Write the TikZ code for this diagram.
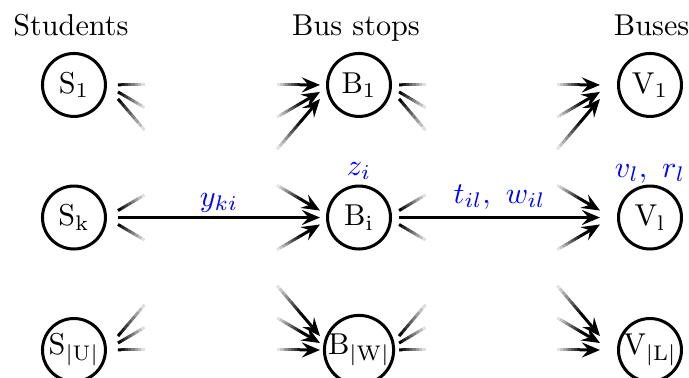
\documentclass[tikz,border=0pt]{standalone}
\usepackage{amsmath,amssymb}
\usepackage{tikz}
\usetikzlibrary{arrows.meta,positioning,calc}

% connector of which only the two ends are seen
\newcommand{\fadelink}[4]{%
  \coordinate (fa) at ([shift={(#3)}]#1.center);
  \coordinate (fb) at ([shift={(#4)}]#2.center);
  \foreach \t [evaluate=\t as \op using 1-\t/8] in {0,...,7}
    \draw[link, opacity=\op] ($(fa)!\t*0.0165!(fb)$) -- ($(fa)!\t*0.0165+0.0165!(fb)$);
  \foreach \t [evaluate=\t as \op using (\t+1)/9] in {0,...,7}
    \draw[link, opacity=\op] ($(fa)!0.787+\t*0.014!(fb)$) -- ($(fa)!0.801+\t*0.014!(fb)$);
  \draw[link, head] ($(fa)!0.899!(fb)$) -- (fb);
}

\begin{document}
\begin{tikzpicture}[
    place/.style={circle, draw, line width=1pt, minimum size=0.733cm, inner sep=0pt},
    link/.style={line width=1pt},
    head/.style={-{Stealth[length=6pt,width=5pt,inset=2.2pt]}},
    var/.style={text=blue}]
  \useasboundingbox (0,0) rectangle (8.02,-4.40);
  \node[anchor=base] (stu) at (0.826,-0.419) {Students};
  \node[anchor=base] (bst) at (4.144,-0.419) {Bus stops};
  \node[anchor=base] (bus) at (7.585,-0.419) {Buses};

  \node[place] (S1) at (0.861,-0.989) {$\mathrm{S}_\mathrm{1}$};
  \node[place] (S2) at (0.861,-2.532) {$\mathrm{S}_\mathrm{k}$};
  \node[place] (S3) at (0.861,-4.074) {$\mathrm{S}_{\mathrm{|U|}}$};
  \node[place] (B1) at (4.179,-0.989) {$\mathrm{B}_\mathrm{1}$};
  \node[place] (B2) at (4.179,-2.532) {$\mathrm{B}_\mathrm{i}$};
  \node[place] (B3) at (4.179,-4.074) {$\mathrm{B}_{\mathrm{|W|}}$};
  \node[place] (V1) at (7.566,-0.989) {$\mathrm{V}_\mathrm{1}$};
  \node[place] (V2) at (7.566,-2.532) {$\mathrm{V}_\mathrm{l}$};
  \node[place] (V3) at (7.566,-4.074) {$\mathrm{V}_{\mathrm{|L|}}$};

  \foreach \src in {1,2,3}
    \foreach \dst in {1,2,3} {
      \pgfmathsetmacro\da{(\src-\dst)*0.081}
      \pgfmathsetmacro\db{(\dst-\src)*0.081}
      \ifnum\src\dst=22 \else
        \fadelink{S\src}{B\dst}{0.512,\da}{-0.454,\db}
        \fadelink{B\src}{V\dst}{0.466,\da}{-0.582,\db}
      \fi
    }

  \draw[link, head] ([xshift=0.512cm]S2.center) -- ([xshift=-0.454cm]B2.center)
    node[midway, above, yshift=-2pt, var] (yki) {$y_{ki}$};
  \draw[link, head] ([xshift=0.466cm]B2.center) -- ([xshift=-0.582cm]V2.center)
    node[midway, above, yshift=-1pt, var] (tw) {$t_{il},\ w_{il}$};
  \node[var, above=-2pt of B2] (zi) {$z_i$};
  \node[var, above=-3pt of V2] (vr) {$v_l,\ r_l$};
\end{tikzpicture}
\end{document}
